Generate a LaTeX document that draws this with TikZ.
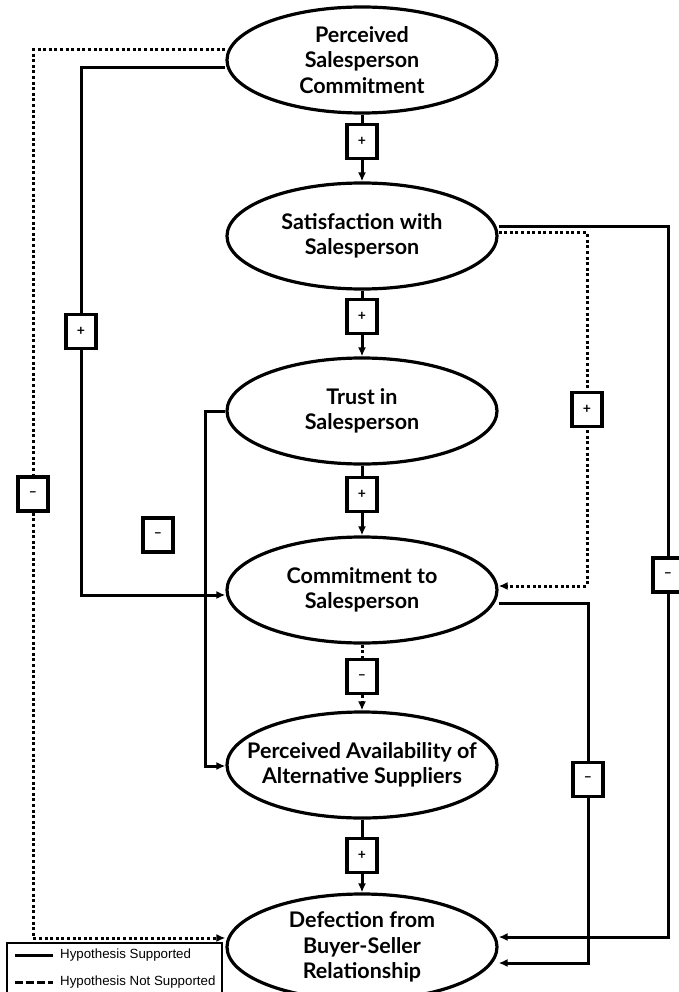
\documentclass[tikz,border=0pt]{standalone}
\usepackage{fontspec}
\setmainfont{Lato}
\newfontfamily\legendfont{Liberation Sans}
\usetikzlibrary{shapes.geometric,arrows.meta}

\tikzset{
	construct/.style={ellipse, draw, line width=3.2pt, minimum width=270pt, minimum height=106pt, inner xsep=-30pt, inner ysep=0pt, align=center, font=\fontsize{21.5}{25.5}\selectfont\bfseries},
	sign/.style={rectangle, draw, solid, fill=white, line width=3.2pt, minimum width=30pt, minimum height=34pt, inner sep=0pt, font=\fontsize{14}{14}\selectfont\bfseries},
	sup/.style={line width=3pt},
	nsup/.style={line width=3pt, dash pattern=on 3pt off 2.6pt},
	tip/.style={-{Latex[length=9pt,width=8pt]}},
	legend/.style={anchor=west, inner sep=0pt, font=\legendfont\fontsize{13.3}{15}\selectfont},
}

\begin{document}
\begin{tikzpicture}[x=1pt, y=-1pt]
	\useasboundingbox (0,0) rectangle (679,992);
	% constructs
	\node[construct] (psc) at (362,60) {Perceived\\Salesperson\\Commitment};
	\node[construct] (sat) at (362,236) {Satisfaction with\\Salesperson};
	\node[construct] (tru) at (362,411) {Trust in\\Salesperson};
	\node[construct] (cmt) at (362,590) {Commitment to\\Salesperson};
	\node[construct] (pav) at (362,765) {Perceived Availability of\\Alternative Suppliers};
	\node[construct] (dfr) at (362,947) {Defection from\\Buyer-Seller\\Relationship};
	% corners of the side paths
	\coordinate (ldot1) at (33,50);
	\coordinate (ldot2) at (33,938);
	\coordinate (lsol1) at (81,68);
	\coordinate (lsol2) at (81,595);
	\coordinate (ltru1) at (205,411);
	\coordinate (ltru2) at (205,766);
	\coordinate (rdot1) at (587,233);
	\coordinate (rdot2) at (587,586);
	\coordinate (rin1) at (588,603);
	\coordinate (rin2) at (588,963);
	\coordinate (rout1) at (668,227);
	\coordinate (rout2) at (668,937);
	% main chain
	\draw[sup, tip] (psc) -- node[sign, pos=0.4] {+} (sat);
	\draw[sup, tip] (sat) -- node[sign, pos=0.39] {+} (tru);
	\draw[sup, tip] (tru) -- node[sign, pos=0.41] {+} (cmt);
	\draw[nsup, tip] (cmt) -- node[sign, pos=0.49] {–} (pav);
	\draw[sup, tip] (pav) -- node[sign, pos=0.49] {+} (dfr);
	% left side
	\draw[nsup, tip] (ldot1 -| psc.west) -- (ldot1) -- node[sign] {–} (ldot2) -- (ldot2 -| dfr.west);
	\draw[sup, tip] (lsol1 -| psc.west) -- (lsol1) -- node[sign] {+} (lsol2) -- (lsol2 -| cmt.west);
	\draw[sup, tip] (ltru1 -| tru.west) -- (ltru1) -- (ltru2) -- (ltru2 -| pav.west);
	\node[sign] (trusign) at (158,535) {–};
	% right side
	\draw[nsup, tip] (rdot1 -| sat.east) -- (rdot1) -- node[sign] {+} (rdot2) -- (rdot2 -| cmt.east);
	\draw[sup, tip] (rin1 -| cmt.east) -- (rin1) -- node[sign, pos=0.49] {–} (rin2) -- (rin2 -| dfr.east);
	\draw[sup, tip] (rout1 -| sat.east) -- (rout1) -- node[sign, pos=0.49] {–} (rout2) -- (rout2 -| dfr.east);
	% legend
	\draw[line width=1.2pt] (7,943) rectangle (222,998);
	\node[legend] (lgs) at (60,955) {Hypothesis Supported};
	\node[legend] (lgn) at (60,982) {Hypothesis Not Supported};
	\draw[sup] ([xshift=-45pt]lgs.west) -- ([xshift=-7pt]lgs.west);
	\draw[line width=3pt, dash pattern=on 8pt off 3pt] ([xshift=-45pt]lgn.west) -- ([xshift=-7pt]lgn.west);
\end{tikzpicture}
\end{document}
